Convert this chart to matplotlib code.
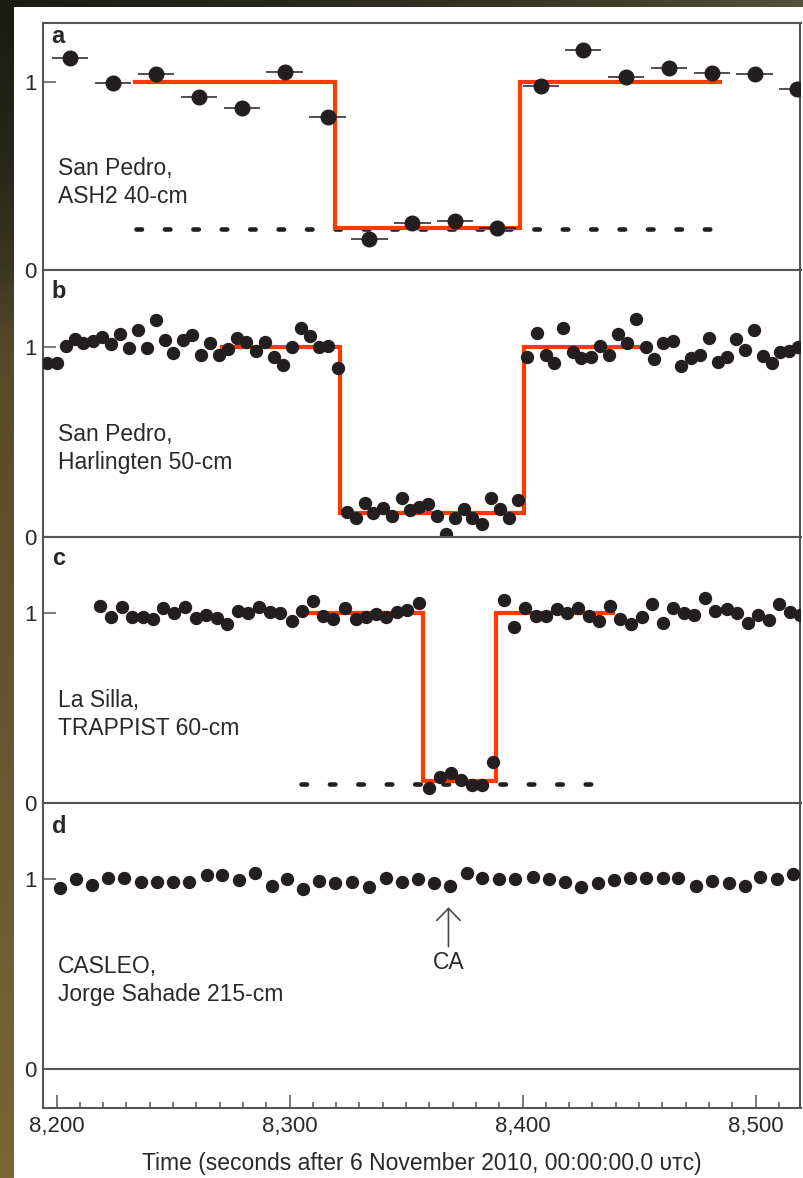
import numpy as np
import matplotlib
matplotlib.use("Agg")
import matplotlib.pyplot as plt
from matplotlib.ticker import MultipleLocator, FixedLocator, FuncFormatter
from matplotlib.colors import LinearSegmentedColormap

# ---------------- data ----------------
# panel a : San Pedro, ASH2 40-cm (points with horizontal bars)
a_time = [8205.7, 8224.2, 8242.6, 8261.1, 8279.5, 8297.9, 8316.3, 8334.3, 8352.7,
          8371.1, 8389.2, 8407.8, 8426.0, 8444.4, 8462.8, 8481.2, 8499.6, 8517.8]
a_flux = [1.124, 0.994, 1.040, 0.919, 0.861, 1.049, 0.813, 0.163, 0.248,
          0.260, 0.223, 0.978, 1.167, 1.022, 1.070, 1.047, 1.038, 0.958]
a_half_exposure = 7.8
a_model_time = [8233.6, 8319.4, 8398.8, 8484.7]
a_model_flux = [1.0, 0.221, 1.0, 1.0]
a_zero_time = [8234.0, 8481.0]
a_zero_flux = 0.2175

# panel b : San Pedro, Harlingten 50-cm
b_time = [8195.7, 8200.0, 8204.0, 8207.9, 8211.4, 8215.5, 8219.3, 8223.3, 8227.2, 8231.2,
          8235.0, 8238.6, 8242.6, 8246.5, 8250.0, 8254.1, 8258.1, 8261.9, 8265.8, 8269.8,
          8273.6, 8277.5, 8281.5, 8285.5, 8289.4, 8293.3, 8297.3, 8301.0, 8304.8, 8308.7,
          8312.7, 8316.6, 8320.6, 8324.5, 8328.5, 8332.3, 8335.9, 8339.9, 8343.8, 8348.1,
          8351.6, 8355.6, 8359.5, 8363.3, 8367.1, 8370.9, 8374.8, 8378.5, 8382.5, 8386.3,
          8390.3, 8394.2, 8398.1, 8402.0, 8406.0, 8409.9, 8413.6, 8417.4, 8421.5, 8425.3,
          8429.3, 8433.2, 8437.0, 8441.0, 8444.9, 8448.9, 8452.8, 8456.5, 8460.3, 8464.4,
          8468.2, 8472.1, 8476.1, 8480.0, 8483.7, 8487.6, 8491.5, 8495.4, 8499.3, 8503.0,
          8506.9, 8510.4, 8514.4, 8518.3]
b_flux = [0.917, 0.917, 1.005, 1.041, 1.023, 1.032, 1.054, 1.016, 1.068, 0.993,
          1.089, 0.993, 1.142, 1.037, 0.970, 1.037, 1.062, 0.956, 1.023, 0.956,
          0.991, 1.049, 1.028, 0.979, 1.028, 0.949, 0.905, 1.002, 1.098, 1.058,
          1.002, 1.005, 0.891, 0.133, 0.098, 0.177, 0.125, 0.151, 0.111, 0.204,
          0.142, 0.156, 0.174, 0.111, 0.016, 0.098, 0.149, 0.098, 0.068, 0.205,
          0.146, 0.098, 0.195, 0.946, 1.075, 0.958, 0.917, 1.098, 0.975, 0.941,
          0.946, 1.005, 0.958, 1.068, 1.023, 1.147, 1.002, 0.935, 1.023, 1.033,
          0.900, 0.941, 0.958, 1.049, 0.923, 0.949, 1.041, 0.984, 1.089, 0.953,
          0.917, 0.975, 0.981, 0.998]
b_model_time = [8270.8, 8321.6, 8400.6, 8449.5]
b_model_flux = [1.0, 0.125, 1.0, 1.0]

# panel c : La Silla, TRAPPIST 60-cm
c_time = [8218.6, 8223.3, 8227.9, 8232.4, 8236.9, 8241.5, 8245.8, 8250.3, 8255.1, 8259.7,
          8264.1, 8268.7, 8273.2, 8277.7, 8282.2, 8287.0, 8291.5, 8296.1, 8300.9, 8305.2,
          8309.9, 8314.2, 8318.7, 8323.7, 8328.5, 8332.7, 8337.3, 8341.6, 8345.9, 8350.2,
          8355.6, 8359.9, 8364.5, 8369.1, 8373.5, 8378.1, 8382.8, 8387.4, 8392.0, 8396.4,
          8401.0, 8405.6, 8410.0, 8414.6, 8419.1, 8423.9, 8428.5, 8432.9, 8437.5, 8441.8,
          8446.4, 8451.1, 8455.6, 8460.3, 8464.6, 8469.2, 8473.6, 8478.2, 8482.8, 8487.6,
          8492.1, 8496.6, 8501.1, 8505.7, 8510.1, 8514.7, 8519.0]
c_flux = [1.038, 0.982, 1.032, 0.982, 0.979, 0.968, 1.026, 1.003, 1.032, 0.977,
          0.991, 0.974, 0.944, 1.014, 1.000, 1.032, 1.008, 1.003, 0.961, 1.014,
          1.065, 0.986, 0.968, 1.026, 0.968, 0.979, 0.996, 0.979, 1.008, 1.017,
          1.056, 0.079, 0.137, 0.161, 0.123, 0.096, 0.096, 0.219, 1.070, 0.929,
          1.026, 0.986, 0.986, 1.021, 1.000, 1.026, 0.986, 0.961, 1.038, 0.968,
          0.944, 0.979, 1.049, 0.951, 1.026, 1.003, 0.991, 1.079, 1.014, 1.021,
          1.003, 0.947, 0.991, 0.965, 1.049, 1.008, 0.991]
c_model_time = [8305.0, 8357.3, 8388.8, 8438.8]
c_model_flux = [1.0, 0.119, 1.0, 1.0]
c_zero_time = [8305.0, 8431.0]
c_zero_flux = 0.10

# panel d : CASLEO, Jorge Sahade 215-cm
d_time = [8201.4, 8208.3, 8215.0, 8221.9, 8228.9, 8236.1, 8242.9, 8249.8, 8256.8, 8264.4,
          8271.2, 8278.2, 8285.1, 8292.3, 8299.0, 8305.6, 8312.7, 8319.4, 8326.6, 8334.2,
          8341.3, 8348.1, 8355.2, 8361.9, 8368.8, 8376.0, 8382.8, 8389.8, 8396.7, 8404.3,
          8411.4, 8418.2, 8425.3, 8432.4, 8439.2, 8446.1, 8452.9, 8460.1, 8466.8, 8474.4,
          8481.5, 8488.7, 8495.4, 8502.1, 8509.3, 8516.1]
d_flux = [0.956, 1.000, 0.970, 1.005, 1.008, 0.987, 0.987, 0.987, 0.987, 1.023,
          1.023, 0.996, 1.035, 0.966, 1.002, 0.947, 0.993, 0.982, 0.987, 0.958,
          1.008, 0.987, 1.000, 0.979, 0.966, 1.032, 1.008, 1.000, 1.000, 1.011,
          1.000, 0.987, 0.958, 0.979, 0.996, 1.005, 1.005, 1.005, 1.008, 0.965,
          0.993, 0.979, 0.965, 1.014, 1.000, 1.028]
ca_time = 8368.2
ca_arrow_flux = [0.645, 0.853]
ca_label_flux = 0.56

panel_letters = ["a", "b", "c", "d"]
site_labels = ["San Pedro,\nASH2 40-cm",
               "San Pedro,\nHarlingten 50-cm",
               "La Silla,\nTRAPPIST 60-cm",
               "CASLEO,\nJorge Sahade 215-cm"]
x_ticks_major = [8200, 8300, 8400, 8500]
y_ticks = [0, 1]
x_label = "Time (seconds after 6 November 2010, 00:00:00.0 \u1d1c\u1d1b\u1d04)"

# ---------------- style ----------------
plt.rcParams["font.family"] = ["Liberation Sans", "DejaVu Sans"]
TXT = "#2a2828"
DOT = "#231f20"
RED = "#ff3a00"
SPINE = "#555555"
FS = 16.5
FS_TICK = 16.0

W, H = 804, 1178
fig = plt.figure(figsize=(W / 100, H / 100), dpi=100, facecolor="white")

# dark border (left and top strips of the source picture)
bg = fig.add_axes([0, 0, 1, 1], zorder=-10)
bg.set_axis_off()
left_cmap = LinearSegmentedColormap.from_list(
    "left", [(0.0, "#1a1b12"), (0.13, "#26261a"), (0.22, "#3a3420"), (0.30, "#574a2a"),
             (0.5, "#62532e"), (0.77, "#6e5c33"), (1.0, "#7a6535")])
top_cmap = LinearSegmentedColormap.from_list(
    "top", [(0.0, "#1a1b12"), (0.4, "#2a2a1e"), (0.75, "#3e3d2a"), (1.0, "#55523a")])
bg.imshow(np.linspace(0, 1, 256)[:, None], cmap=left_cmap, extent=(0, 14, H, 0), aspect="auto")
bg.imshow(np.linspace(0, 1, 256)[None, :], cmap=top_cmap, extent=(0, W, 7, 0), aspect="auto")
bg.set_xlim(0, W)
bg.set_ylim(H, 0)

# axes geometry (pixels)
left_px, right_px = 43.3, 800.5
panel_px = [(23.3, 270.0), (270.0, 537.0), (537.0, 803.3), (803.3, 1107.7)]
ylims = [(0, 1.309), (0, 1.405), (0, 1.402), (-0.202, 1.40)]
xlim = (8194.3, 8519.3)

axes = []
for (top, bot), yl in zip(panel_px, ylims):
    ax = fig.add_axes([left_px / W, (H - bot) / H, (right_px - left_px) / W, (bot - top) / H])
    ax.set_xlim(*xlim)
    ax.set_ylim(*yl)
    for s in ax.spines.values():
        s.set_color(SPINE)
        s.set_linewidth(1.5)
    ax.yaxis.set_major_locator(FixedLocator(y_ticks))
    ax.tick_params(axis="y", direction="in", length=9.3, width=1.1, color=SPINE,
                   labelsize=FS_TICK, labelcolor=TXT, pad=5, left=True, right=False)
    ax.tick_params(axis="x", which="both", bottom=False, top=False, labelbottom=False)
    axes.append(ax)

axa, axb, axc, axd = axes

dot_dashes = (1.2, 5.0)

# panel a
axa.plot(a_model_time, a_model_flux, drawstyle="steps-post", color=RED, lw=3.0,
         solid_joinstyle="miter", zorder=2)
axa.plot(a_zero_time, [a_zero_flux] * 2, color=DOT, lw=3.3, dashes=dot_dashes,
         dash_capstyle="round", zorder=1)
axa.errorbar(a_time, a_flux, xerr=a_half_exposure, fmt="o", color=DOT, ms=10.5,
             elinewidth=1.1, capsize=0, zorder=3)

# panel b
axb.plot(b_model_time, b_model_flux, drawstyle="steps-post", color=RED, lw=3.0,
         solid_joinstyle="miter", zorder=2)
axb.plot(b_time, b_flux, "o", color=DOT, ms=8.6, zorder=3)

# panel c
axc.plot(c_model_time, c_model_flux, drawstyle="steps-post", color=RED, lw=3.0,
         solid_joinstyle="miter", zorder=2)
axc.plot(c_zero_time, [c_zero_flux] * 2, color=DOT, lw=3.3, dashes=dot_dashes,
         dash_capstyle="round", zorder=1)
axc.plot(c_time, c_flux, "o", color=DOT, ms=8.6, zorder=3)

# panel d
axd.axhline(0, color=SPINE, lw=1.5, zorder=1)
axd.plot(d_time, d_flux, "o", color=DOT, ms=8.6, zorder=3)
axd.annotate("", xy=(ca_time, ca_arrow_flux[1]), xytext=(ca_time, ca_arrow_flux[0]),
             arrowprops=dict(arrowstyle="->,head_length=0.43,head_width=0.42",
                             color="#4a4a4a", lw=1.2, mutation_scale=20,
                             shrinkA=0, shrinkB=0))
axd.text(ca_time, ca_label_flux, "CA", ha="center", va="center", fontsize=FS, color=TXT)

# x axis of bottom panel
axd.xaxis.set_major_locator(FixedLocator(x_ticks_major))
axd.xaxis.set_minor_locator(MultipleLocator(10))
axd.xaxis.set_major_formatter(FuncFormatter(lambda v, p: f"{int(round(v)):,}"))
axd.tick_params(axis="x", which="both", bottom=True, labelbottom=True, direction="in",
                color=SPINE, width=1.1, labelsize=FS_TICK, labelcolor=TXT, pad=6)
axd.tick_params(axis="x", which="major", length=9.1)
axd.tick_params(axis="x", which="minor", length=4.3)

# labels inside panels (site label anchored at the baseline of its last line)
letter_y = [1.204, 1.256, 1.254, 1.242]
site_y = [0.355, 0.358, 0.36, 0.358]
for ax, let, ly, lab, sy in zip(axes, panel_letters, letter_y, site_labels, site_y):
    ax.text(8197.9, ly, let, fontsize=17, fontweight="bold", color=TXT, va="baseline", ha="left")
    ax.text(8200.4, sy, lab, fontsize=FS, color=TXT, va="baseline", ha="left", linespacing=1.3)

fig.text((left_px + right_px) / 2 / W, (H - 1170) / H, x_label, ha="center", va="baseline",
         fontsize=FS, color=TXT)

fig.savefig("out.png", dpi=100, facecolor=fig.get_facecolor())
